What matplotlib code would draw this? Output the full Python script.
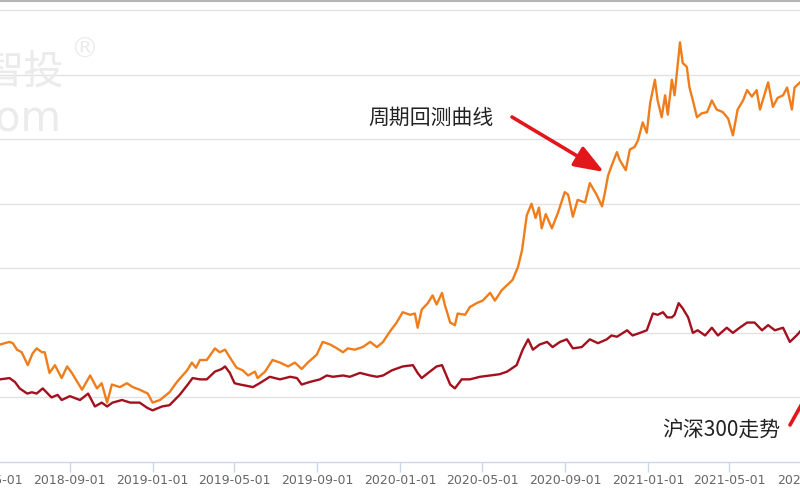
import numpy as np
import pandas as pd
import matplotlib
matplotlib.use("Agg")
import matplotlib.pyplot as plt
import matplotlib.dates as mdates
from matplotlib.lines import Line2D

plt.rcParams['font.family'] = ['Noto Sans CJK SC', 'DejaVu Sans']

# ---- data ----
cycle_dates = [
    "2018-05-21", "2018-06-04", "2018-06-09", "2018-06-15", "2018-06-22", "2018-07-01", "2018-07-08",
    "2018-07-14", "2018-07-22", "2018-07-26", "2018-08-02", "2018-08-10", "2018-08-20", "2018-08-28",
    "2018-09-04", "2018-09-19", "2018-10-01", "2018-10-11", "2018-10-18", "2018-10-26", "2018-11-02",
    "2018-11-14", "2018-11-24", "2018-12-03", "2018-12-13", "2018-12-25", "2019-01-01", "2019-01-12",
    "2019-01-26", "2019-02-06", "2019-02-21", "2019-02-28", "2019-03-06", "2019-03-12", "2019-03-22",
    "2019-04-03", "2019-04-10", "2019-04-18", "2019-04-25", "2019-05-05", "2019-05-14", "2019-05-22",
    "2019-06-01", "2019-06-05", "2019-06-16", "2019-06-27", "2019-07-08", "2019-07-20", "2019-07-30",
    "2019-08-09", "2019-08-18", "2019-08-31", "2019-09-09", "2019-09-20", "2019-09-30", "2019-10-09",
    "2019-10-16", "2019-10-26", "2019-11-07", "2019-11-18", "2019-11-28", "2019-12-07", "2019-12-17",
    "2019-12-27", "2020-01-05", "2020-01-16", "2020-01-23", "2020-01-27", "2020-02-02", "2020-02-11",
    "2020-02-18", "2020-02-24", "2020-03-03", "2020-03-07", "2020-03-15", "2020-03-22", "2020-03-26",
    "2020-04-06", "2020-04-13", "2020-04-23", "2020-05-02", "2020-05-13", "2020-05-20", "2020-05-30",
    "2020-06-07", "2020-06-15", "2020-06-23", "2020-06-29", "2020-07-06", "2020-07-13", "2020-07-19",
    "2020-07-24", "2020-07-28", "2020-08-03", "2020-08-12", "2020-08-21", "2020-08-31", "2020-09-05",
    "2020-09-12", "2020-09-19", "2020-09-30", "2020-10-07", "2020-10-17", "2020-10-25", "2020-10-29",
    "2020-11-03", "2020-11-10", "2020-11-16", "2020-11-20", "2020-11-29", "2020-12-05", "2020-12-12",
    "2020-12-17", "2020-12-24", "2020-12-30", "2021-01-04", "2021-01-11", "2021-01-15", "2021-01-21",
    "2021-01-26", "2021-01-30", "2021-02-05", "2021-02-09", "2021-02-17", "2021-02-21", "2021-02-27",
    "2021-03-03", "2021-03-08", "2021-03-14", "2021-03-21", "2021-03-29", "2021-04-05", "2021-04-12",
    "2021-04-21", "2021-04-29", "2021-05-06", "2021-05-13", "2021-05-21", "2021-05-27", "2021-06-03",
    "2021-06-10", "2021-06-15", "2021-06-27", "2021-07-04", "2021-07-11", "2021-07-19", "2021-07-25",
    "2021-08-01", "2021-08-05", "2021-08-13",
]
cycle_values = [
    0.91, 0.93, 0.92, 0.87, 0.85, 0.75, 0.84,
    0.88, 0.85, 0.85, 0.69, 0.75, 0.65, 0.74,
    0.69, 0.56, 0.67, 0.57, 0.61, 0.46, 0.60,
    0.58, 0.61, 0.58, 0.56, 0.53, 0.46, 0.48,
    0.54, 0.62, 0.71, 0.77, 0.73, 0.79, 0.79,
    0.88, 0.85, 0.87, 0.81, 0.73, 0.71, 0.67,
    0.70, 0.65, 0.70, 0.79, 0.77, 0.74, 0.77,
    0.72, 0.77, 0.83, 0.93, 0.91, 0.88, 0.85,
    0.88, 0.87, 0.89, 0.93, 0.89, 0.93, 1.01,
    1.08, 1.16, 1.14, 1.15, 1.04, 1.18, 1.23,
    1.29, 1.22, 1.31, 1.22, 1.08, 1.06, 1.15,
    1.14, 1.20, 1.23, 1.25, 1.31, 1.25, 1.33,
    1.37, 1.41, 1.51, 1.64, 1.91, 2.00, 1.89,
    1.97, 1.81, 1.92, 1.81, 1.93, 2.09, 2.07,
    1.90, 2.03, 2.01, 2.16, 2.07, 1.98, 2.08,
    2.22, 2.32, 2.40, 2.34, 2.26, 2.42, 2.44,
    2.49, 2.63, 2.55, 2.78, 2.96, 2.80, 2.67,
    2.84, 2.69, 2.96, 2.84, 3.25, 3.09, 3.06,
    2.90, 2.80, 2.67, 2.70, 2.71, 2.80, 2.73,
    2.71, 2.66, 2.53, 2.73, 2.80, 2.88, 2.83,
    2.88, 2.73, 2.94, 2.75, 2.82, 2.84, 2.90,
    2.73, 2.90, 2.94,
]

hs300_dates = [
    "2018-05-21", "2018-06-04", "2018-06-12", "2018-06-19", "2018-06-30", "2018-07-07", "2018-07-14",
    "2018-07-23", "2018-08-05", "2018-08-14", "2018-08-20", "2018-09-01", "2018-09-16", "2018-09-28",
    "2018-10-08", "2018-10-18", "2018-10-26", "2018-11-03", "2018-11-17", "2018-11-29", "2018-12-13",
    "2018-12-24", "2019-01-01", "2019-01-15", "2019-01-26", "2019-02-10", "2019-02-22", "2019-03-01",
    "2019-03-12", "2019-03-22", "2019-04-03", "2019-04-13", "2019-04-18", "2019-04-25", "2019-05-02",
    "2019-05-10", "2019-05-20", "2019-05-29", "2019-06-08", "2019-06-23", "2019-07-08", "2019-07-23",
    "2019-08-02", "2019-08-09", "2019-08-21", "2019-09-05", "2019-09-15", "2019-09-24", "2019-10-09",
    "2019-10-19", "2019-11-03", "2019-11-18", "2019-11-28", "2019-12-07", "2019-12-20", "2020-01-05",
    "2020-01-20", "2020-01-27", "2020-02-02", "2020-02-14", "2020-02-24", "2020-03-03", "2020-03-07",
    "2020-03-15", "2020-03-22", "2020-04-01", "2020-04-13", "2020-04-28", "2020-05-13", "2020-05-27",
    "2020-06-07", "2020-06-21", "2020-06-30", "2020-07-08", "2020-07-15", "2020-07-25", "2020-08-05",
    "2020-08-13", "2020-08-24", "2020-09-03", "2020-09-12", "2020-09-25", "2020-10-07", "2020-10-19",
    "2020-11-01", "2020-11-08", "2020-11-16", "2020-12-01", "2020-12-09", "2020-12-20", "2020-12-30",
    "2021-01-08", "2021-01-15", "2021-01-23", "2021-01-29", "2021-02-05", "2021-02-09", "2021-02-15",
    "2021-02-21", "2021-03-01", "2021-03-08", "2021-03-15", "2021-03-26", "2021-04-05", "2021-04-14",
    "2021-04-27", "2021-05-06", "2021-05-16", "2021-05-27", "2021-06-07", "2021-06-18", "2021-06-27",
    "2021-07-07", "2021-07-19", "2021-07-29", "2021-08-08", "2021-08-13",
]
hs300_values = [
    0.64, 0.65, 0.62, 0.57, 0.53, 0.54, 0.53,
    0.57, 0.50, 0.52, 0.48, 0.51, 0.48, 0.53,
    0.43, 0.46, 0.43, 0.46, 0.48, 0.46, 0.46,
    0.42, 0.40, 0.43, 0.44, 0.52, 0.60, 0.65,
    0.64, 0.64, 0.70, 0.72, 0.74, 0.69, 0.61,
    0.60, 0.59, 0.58, 0.61, 0.66, 0.64, 0.66,
    0.65, 0.60, 0.62, 0.64, 0.67, 0.66, 0.67,
    0.66, 0.69, 0.67, 0.66, 0.67, 0.71, 0.74,
    0.75, 0.69, 0.65, 0.70, 0.74, 0.75, 0.70,
    0.60, 0.57, 0.64, 0.64, 0.66, 0.67, 0.68,
    0.70, 0.75, 0.87, 0.95, 0.87, 0.91, 0.93,
    0.89, 0.93, 0.95, 0.88, 0.89, 0.95, 0.92,
    0.95, 0.98, 0.97, 1.02, 0.98, 1.00, 1.02,
    1.15, 1.14, 1.16, 1.12, 1.12, 1.14, 1.23,
    1.19, 1.12, 1.00, 1.02, 0.98, 1.04, 0.98,
    1.04, 1.00, 1.04, 1.08, 1.08, 1.02, 1.06,
    1.02, 1.04, 0.93, 0.98, 1.01,
]

grid_levels = [0.5, 1.0, 1.5, 2.0, 2.5, 3.0, 3.5]
label_cycle = "周期回测曲线"
label_hs300 = "沪深300走势"

# ---- figure ----
fig = plt.figure(figsize=(8, 5), dpi=100)
ax = fig.add_axes([-0.1, 0.076, 1.2, 0.924])

cd = pd.to_datetime(cycle_dates)
hd = pd.to_datetime(hs300_dates)
ax.plot(cd, cycle_values, color="#f07d1c", lw=1.7, solid_joinstyle="round", zorder=3)
ax.plot(hd, hs300_values, color="#a3101e", lw=1.7, solid_joinstyle="round", zorder=3)

ax.set_xlim(pd.Timestamp("2018-01-23"), pd.Timestamp("2021-12-09"))
ax.set_ylim(0, 3.578)

ax.set_yticks(grid_levels)
ax.yaxis.grid(True, color="#e2e2e2", lw=1.0)
ax.tick_params(axis="y", left=False, labelleft=False)
ax.xaxis.set_major_locator(mdates.MonthLocator(bymonth=[1, 5, 9]))
ax.xaxis.set_major_formatter(mdates.DateFormatter("%Y-%m-%d"))
ax.tick_params(axis="x", direction="out", length=7, width=1, color="#ccd6eb",
               labelsize=9, labelcolor="#666666", pad=2)
for lab in ax.get_xticklabels():
    lab.set_fontfamily("DejaVu Sans")
for s in ["left", "right", "top"]:
    ax.spines[s].set_visible(False)
ax.spines["bottom"].set_color("#ccd6eb")
ax.spines["bottom"].set_linewidth(1)
ax.set_axisbelow(True)

# top border line
fig.add_artist(Line2D([0, 1], [0.998, 0.998], transform=fig.transFigure, color="#b5b5b5", lw=1.5))

# watermark
fig.text(64 / 800, 1 - 72 / 500, "智投", ha="right", va="center", fontsize=29,
         color="#ebebeb", zorder=0)
fig.text(84 / 800, 1 - 50 / 500, "®", ha="center", va="center", fontsize=20,
         color="#ebebeb", family="DejaVu Sans", zorder=0)
fig.text(62 / 800, 1 - 131 / 500, ".com", ha="right", va="baseline", fontsize=30,
         color="#ebebeb", family="DejaVu Sans", zorder=0)

# annotations
fig.text(368 / 800, 1 - 118 / 500, label_cycle, ha="left", va="center", fontsize=15, color="#222222")
fig.text(662 / 800, 1 - 430 / 500, label_hs300, ha="left", va="center", fontsize=15, color="#222222")

arrow_kw = dict(arrowstyle="-|>,head_length=1.2,head_width=0.45", color="#e3161c", lw=2.6,
                mutation_scale=15, shrinkA=0, shrinkB=0)
ax.annotate("", xy=(604, 500 - 172), xycoords="figure pixels",
            xytext=(512, 500 - 117), textcoords="figure pixels", arrowprops=arrow_kw)
ax.annotate("", xy=(832, 500 - 350), xycoords="figure pixels",
            xytext=(790, 500 - 425), textcoords="figure pixels", arrowprops=arrow_kw,
            annotation_clip=False)

fig.savefig("out.png", dpi=100)
